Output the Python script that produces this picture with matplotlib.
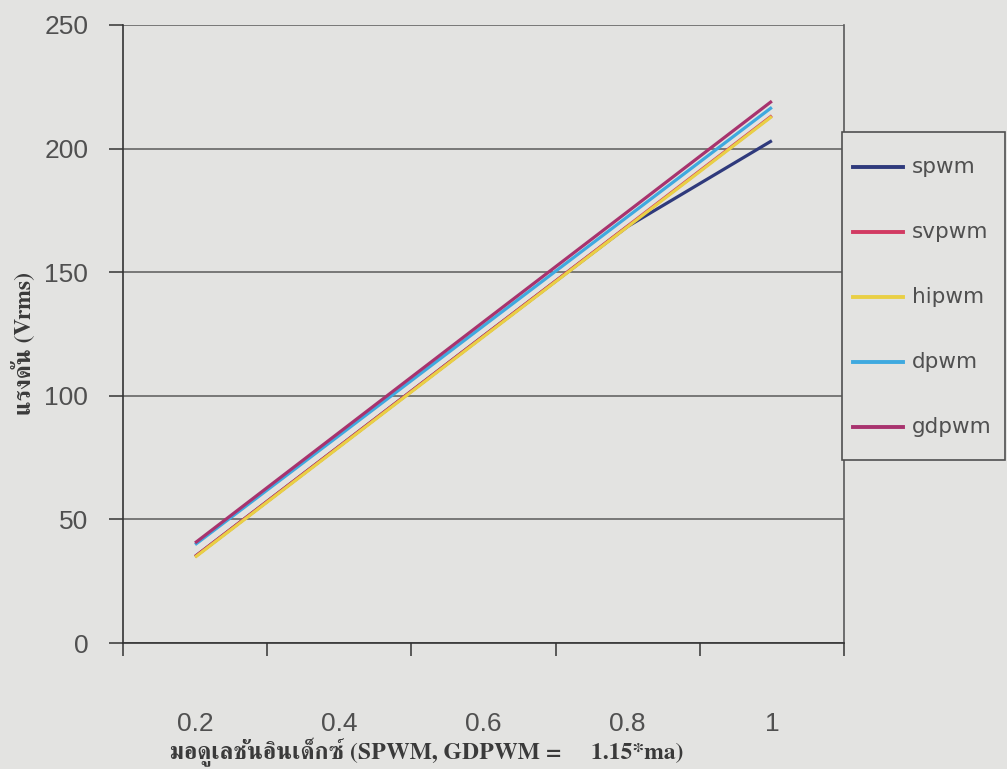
import matplotlib
matplotlib.use("Agg")
import matplotlib.pyplot as plt
from matplotlib.lines import Line2D
from matplotlib.patches import Rectangle

# Output voltage versus modulation index for five PWM schemes
categories = ["0.2", "0.4", "0.6", "0.8", "1"]
series_names = ["spwm", "svpwm", "hipwm", "dpwm", "gdpwm"]
spwm = [35.0, 79.6, 124.2, 168.5, 203.2]
svpwm = [35.0, 79.6, 124.2, 168.7, 213.3]
hipwm = [34.7, 79.3, 123.9, 168.4, 213.0]
dpwm = [39.8, 84.0, 128.3, 172.5, 216.7]
gdpwm = [40.5, 85.2, 129.9, 174.5, 219.2]
series_values = [spwm, svpwm, hipwm, dpwm, gdpwm]
series_colors = ["#2f3a7c", "#d23a62", "#e9cf45", "#3fa9df", "#a8336e"]

y_ticks = [0, 50, 100, 150, 200, 250]
x_title = "มอดูเลชั่นอินเด็กซ์ (SPWM, GDPWM =     1.15*ma)"
y_title = "แรงดัน (Vrms)"

bg = "#e3e3e1"
text_gray = "#505050"
thai_bold = ["FreeSerif", "DejaVu Serif"]

fig = plt.figure(figsize=(10.07, 7.69), dpi=100, facecolor=bg)
ax = fig.add_axes([0.1221, 0.1638, 0.7160, 0.8037], facecolor=bg)

x = list(range(len(categories)))
for vals, col in zip(series_values, series_colors):
    ax.plot(x, vals, color=col, lw=2.3, solid_capstyle="butt", zorder=3)

ax.set_xlim(-0.5, len(categories) - 0.5)
ax.set_ylim(0, 250)

# category labels sit between boundary tick marks
ax.set_xticks(x)
ax.set_xticklabels(categories)
ax.set_xticks([i - 0.5 for i in range(len(categories) + 1)], minor=True)
ax.tick_params(axis="x", which="major", length=0, pad=50,
               labelsize=19, labelcolor=text_gray)
ax.tick_params(axis="x", which="minor", length=9.5, width=1.1,
               color="#333333", direction="out")
for lab in ax.get_xticklabels():
    lab.set_family("Liberation Sans")

ax.set_yticks(y_ticks)
ax.tick_params(axis="y", which="major", length=10, width=1.1, pad=15,
               color="#333333", labelsize=19, labelcolor=text_gray)
for lab in ax.get_yticklabels():
    lab.set_family("Liberation Sans")

ax.grid(axis="y", color="#5a5a5a", lw=1.1)
ax.set_axisbelow(True)
ax.spines["top"].set_visible(False)
ax.spines["left"].set_color("#333333")
ax.spines["bottom"].set_color("#333333")
ax.spines["right"].set_color("#5a5a5a")
for s in ("left", "bottom", "right"):
    ax.spines[s].set_linewidth(1.2)

fig.text(427 / 1007, 1 - 752 / 769, x_title, family=thai_bold,
         fontweight="bold", fontsize=17, color="#3a3a3a",
         ha="center", va="center")
fig.text(23 / 1007, 1 - 343 / 769, y_title, family=thai_bold,
         fontweight="bold", fontsize=17, color="#3a3a3a",
         ha="center", va="center", rotation=90)

# legend panel on the right
W, H = 1007, 769
box_l, box_t, box_r, box_b = 842, 132, 1005, 460
fig.patches.append(Rectangle((box_l / W, 1 - box_b / H),
                             (box_r - box_l) / W, (box_b - box_t) / H,
                             transform=fig.transFigure, facecolor=bg,
                             edgecolor="#505050", lw=1.2, zorder=5))
row0, step = 167, 65
for i, (name, col) in enumerate(zip(series_names, series_colors)):
    yy = 1 - (row0 + i * step) / H
    fig.lines.append(Line2D([853 / W, 903 / W], [yy, yy], color=col, lw=2.8,
                            transform=fig.transFigure, zorder=6))
    fig.text(912 / W, yy, name, fontsize=15.5, color=text_gray,
             family="DejaVu Sans", ha="left", va="center", zorder=6)

fig.savefig("out.png", dpi=100, facecolor=bg)
